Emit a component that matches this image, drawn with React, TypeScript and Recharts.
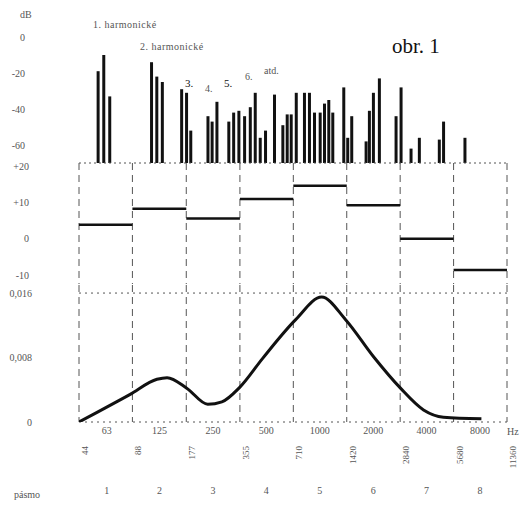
import React from "react";
import {
  ComposedChart,
  Bar,
  Line,
  XAxis,
  YAxis,
  CartesianGrid,
  ReferenceLine,
} from "recharts";

// band edges and centres (Hz)
const EDGES = [44, 88, 177, 355, 710, 1420, 2840, 5680, 11360];
const CENTERS = [63, 125, 250, 500, 1000, 2000, 4000, 8000];
const CENTER_LABELS = ["63", "125", "250", "500", "1000", "2000", "4000", "8000"];
const BAND_NUMBERS = ["1", "2", "3", "4", "5", "6", "7", "8"];

// spectrum lines: frequency (Hz) and level (dB)
const SPECTRUM_FREQ = [
  56.5, 60.8, 65.7, 113, 121, 130, 167, 178, 188, 235, 248, 264, 308, 328, 351,
  378, 407, 434, 463, 496, 557, 621, 657, 692, 739, 822, 877, 936, 1008, 1066,
  1127, 1187, 1369, 1441, 1518, 1829, 1909, 2011, 2173, 2698, 2879, 3277, 3650,
  4729, 4998, 6596,
];
const SPECTRUM_DB = [
  -19, -10, -33, -14, -22, -25, -29, -31, -52, -44, -47, -36, -47, -42, -41,
  -44, -39, -31, -56, -52, -32, -49, -43, -43, -31, -31, -31, -42, -42, -37,
  -35, -42, -28, -56, -44, -58, -41, -31, -23, -44, -28, -62, -56,
  -57, -47, -56,
];
const SPECTRUM_FLOOR = -70;
const SPECTRUM_TICKS = [0, -20, -40, -60];

// level per band (dB)
const BAND_LEVEL = [3.9, 8.3, 5.6, 11.0, 14.7, 9.3, 0, -8.6];
const LEVEL_TICKS = [20, 10, 0, -10];

// weighting curve
const CURVE_FREQ = [44, 55.6, 85, 121, 138, 178, 234, 281, 354, 477, 732, 1025, 1399, 2011, 2852, 3845, 4980, 8150];
const CURVE_VALUE = [0, 0.0012, 0.0034, 0.0053, 0.0055, 0.0042, 0.0022, 0.0025, 0.0043, 0.0079, 0.0127, 0.0155, 0.0127, 0.0081, 0.0042, 0.0015, 0.0006, 0.0004];
const CURVE_TICKS = [0, 0.008, 0.016];

const spectrumData = SPECTRUM_FREQ.map((f, i) => ({ f, db: SPECTRUM_DB[i] }));
const levelData: any[] = [];
BAND_LEVEL.forEach((v, i) => {
  levelData.push({ f: EDGES[i], ["b" + i]: v });
  levelData.push({ f: EDGES[i + 1], ["b" + i]: v });
});
const curveData = CURVE_FREQ.map((f, i) => ({ f, v: CURVE_VALUE[i] }));

const W = 528;
const MARGIN_R = 21;
const AXIS_W = 79;
const FONT = "'Liberation Serif', 'DejaVu Serif', serif";
const INK = "#111";
const GREY = "#555";
const tickStyle = { fontSize: 10, fill: GREY, fontFamily: FONT };
const DOMAIN: [number, number] = [44, 11360];

const EdgeTick = (props: any) => {
  const { x, y, payload } = props;
  return (
    <text
      x={x + 9}
      y={y + 4}
      transform={`rotate(-90, ${x + 9}, ${y + 4})`}
      textAnchor="end"
      fontSize={9}
      fill={GREY}
      fontFamily={FONT}
    >
      {payload.value}
    </text>
  );
};

const Abs: React.FC<{ top: number; left: number; size?: number; color?: string; spacing?: number; children: React.ReactNode }> = ({
  top,
  left,
  size = 10,
  color = GREY,
  spacing = 0,
  children,
}) => (
  <div
    style={{
      position: "absolute",
      top,
      left,
      fontSize: size,
      color,
      lineHeight: 1,
      letterSpacing: spacing,
      whiteSpace: "nowrap",
    }}
  >
    {children}
  </div>
);

export default function App() {
  return (
    <div
      style={{
        position: "absolute",
        left: 0,
        top: 0,
        width: W,
        height: 510,
        background: "#fff",
        fontFamily: FONT,
      }}
    >
      {/* spectrum */}
      <div style={{ position: "absolute", top: 0, left: 0 }}>
        <ComposedChart width={W} height={168} data={spectrumData} margin={{ top: 28, right: MARGIN_R, bottom: 5, left: 0 }}>
          <XAxis dataKey="f" type="number" scale="log" domain={DOMAIN} allowDataOverflow hide />
          <YAxis
            type="number"
            domain={[SPECTRUM_FLOOR, 5]}
            ticks={SPECTRUM_TICKS}
            width={AXIS_W}
            axisLine={false}
            tickLine={false}
            tickMargin={48}
            tick={tickStyle}
            allowDataOverflow
          />
          <ReferenceLine y={SPECTRUM_FLOOR} stroke={GREY} strokeDasharray="2 3" />
          <Bar
            dataKey={(d: any) => [SPECTRUM_FLOOR, d.db]}
            barSize={3}
            fill={INK}
            isAnimationActive={false}
          />
        </ComposedChart>
      </div>

      {/* band levels */}
      <div style={{ position: "absolute", top: 158, left: 0 }}>
        <ComposedChart width={W} height={131} data={levelData} margin={{ top: 5, right: MARGIN_R, bottom: 5, left: 0 }}>
          <CartesianGrid horizontal={false} verticalValues={EDGES} stroke={GREY} strokeDasharray="7 5" />
          <XAxis dataKey="f" type="number" scale="log" domain={DOMAIN} allowDataOverflow hide />
          <YAxis
            type="number"
            domain={[-12.5, 21]}
            ticks={LEVEL_TICKS}
            width={AXIS_W}
            axisLine={false}
            tickLine={false}
            tickMargin={44}
            tick={tickStyle}
            tickFormatter={(v: number) => (v > 0 ? `+${v}` : `${v}`)}
            allowDataOverflow
          />
          {BAND_LEVEL.map((_, i) => (
            <Line
              key={i}
              dataKey={"b" + i}
              stroke={INK}
              strokeWidth={2.5}
              dot={false}
              connectNulls={false}
              isAnimationActive={false}
            />
          ))}
        </ComposedChart>
      </div>

      {/* weighting curve */}
      <div style={{ position: "absolute", top: 280, left: 0 }}>
        <ComposedChart width={W} height={230} data={curveData} margin={{ top: 5, right: MARGIN_R, bottom: 0, left: 0 }}>
          <CartesianGrid xAxisId="c" horizontal={false} verticalValues={EDGES} stroke={GREY} strokeDasharray="7 5" />
          <XAxis
            xAxisId="c"
            dataKey="f"
            type="number"
            scale="log"
            domain={DOMAIN}
            allowDataOverflow
            ticks={CENTERS}
            tickFormatter={(v: number) => CENTER_LABELS[CENTERS.indexOf(v)]}
            height={18}
            axisLine={false}
            tickLine={false}
            tickSize={0}
            tickMargin={5}
            tick={tickStyle}
            interval={0}
          />
          <XAxis
            xAxisId="e"
            dataKey="f"
            type="number"
            scale="log"
            domain={DOMAIN}
            allowDataOverflow
            ticks={EDGES}
            height={45}
            axisLine={false}
            tickLine={false}
            tickSize={0}
            tick={<EdgeTick />}
            interval={0}
          />
          <XAxis
            xAxisId="n"
            dataKey="f"
            type="number"
            scale="log"
            domain={DOMAIN}
            allowDataOverflow
            ticks={CENTERS}
            tickFormatter={(v: number) => BAND_NUMBERS[CENTERS.indexOf(v)]}
            height={25}
            axisLine={false}
            tickLine={false}
            tickSize={0}
            tickMargin={2}
            tick={tickStyle}
            interval={0}
          />
          <YAxis
            type="number"
            domain={[0, 0.017]}
            ticks={CURVE_TICKS}
            width={AXIS_W}
            axisLine={false}
            tickLine={false}
            tickMargin={41}
            tick={tickStyle}
            tickFormatter={(v: number) => (v === 0 ? "0" : v.toFixed(3).replace(".", ","))}
            allowDataOverflow
          />
          <ReferenceLine xAxisId="c" y={0.016} stroke={GREY} strokeDasharray="2 4" />
          <ReferenceLine xAxisId="c" y={0} stroke={GREY} strokeDasharray="2 4" />
          <Line
            xAxisId="c"
            dataKey="v"
            type="monotone"
            stroke={INK}
            strokeWidth={3}
            dot={false}
            isAnimationActive={false}
          />
        </ComposedChart>
      </div>

      <Abs top={10} left={20}>dB</Abs>
      <Abs top={20} left={93} spacing={0.5}>1. harmonické</Abs>
      <Abs top={42} left={140} spacing={0.5}>2. harmonické</Abs>
      <Abs top={78} left={185} size={11} color={INK}>3.</Abs>
      <Abs top={84} left={205}>4.</Abs>
      <Abs top={78} left={224} size={11} color={INK}>5.</Abs>
      <Abs top={72} left={245}>6.</Abs>
      <Abs top={66} left={264}>atd.</Abs>
      <Abs top={36} left={392} size={21} color={INK}>obr. 1</Abs>
      <Abs top={427} left={507}>Hz</Abs>
      <Abs top={490} left={14}>pásmo</Abs>
    </div>
  );
}
